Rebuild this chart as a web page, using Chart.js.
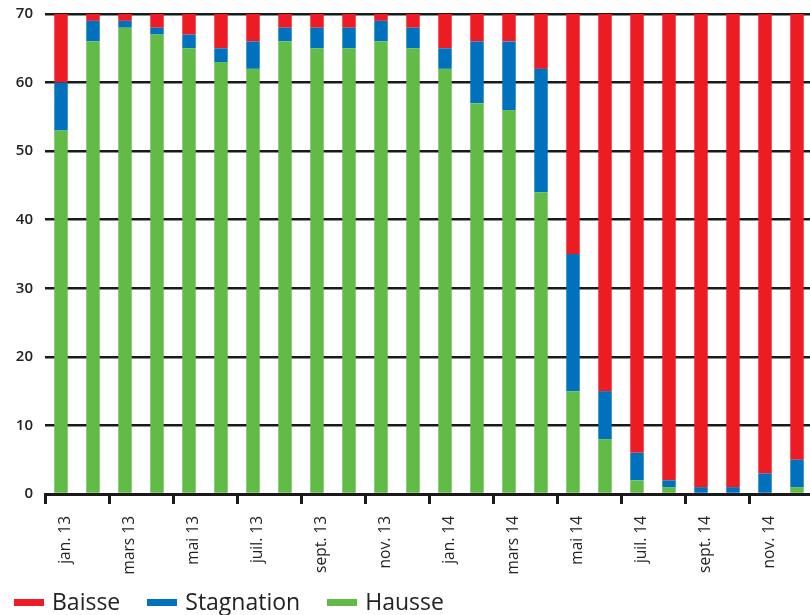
<!doctype html>
<html>
<head>
  <script src="https://cdn.jsdelivr.net/npm/chart.js@4.4.1/dist/chart.umd.min.js"></script>
  <style>
    html, body { margin: 0; padding: 0; overflow: hidden; background: #fff; }
    .chart { position: relative; width: 830px; height: 622px; margin-top: -7px; }
    #legend {
      position: absolute; left: 14px; top: 586px;
      display: flex; align-items: center;
      font-family: 'Open Sans', sans-serif; font-size: 23px; line-height: 30px; color: #222;
    }
    #legend .item { display: flex; align-items: center; margin-right: 27px; }
    #legend .box { width: 30px; height: 7px; margin-right: 8px; margin-top: 3px; }
  </style>
</head>
<body>
  <div class="chart"><canvas id="myChart"></canvas></div>
  <div id="legend"></div>
  <script>
    var months = ['jan. 13', 'févr. 13', 'mars 13', 'avr. 13', 'mai 13', 'juin 13',
      'juil. 13', 'août 13', 'sept. 13', 'oct. 13', 'nov. 13', 'déc. 13',
      'jan. 14', 'févr. 14', 'mars 14', 'avr. 14', 'mai 14', 'juin 14',
      'juil. 14', 'août 14', 'sept. 14', 'oct. 14', 'nov. 14', 'déc. 14'];
    var hausse = [53, 66, 68, 67, 65, 63, 62, 66, 65, 65, 66, 65,
      62, 57, 56, 44, 15, 8, 2, 1, 0, 0, 0, 1];
    var stagnation = [7, 3, 1, 1, 2, 2, 4, 2, 3, 3, 3, 3,
      3, 9, 10, 18, 20, 7, 4, 1, 1, 1, 3, 4];
    var baisse = [10, 1, 1, 2, 3, 5, 4, 2, 2, 2, 1, 2,
      5, 4, 4, 8, 35, 55, 64, 68, 69, 69, 67, 65];
    var yTicks = [0, 10, 20, 30, 40, 50, 60, 70];

    var colors = { red: '#ED1C24', blue: '#0071BC', green: '#62BB47' };
    var ink = '#1a1a1a';

    var config = {
      type: 'bar',
      data: {
        labels: months,
        datasets: [{
          label: 'Hausse',
          data: hausse,
          backgroundColor: colors.green
        }, {
          label: 'Stagnation',
          data: stagnation,
          backgroundColor: colors.blue
        }, {
          label: 'Baisse',
          data: baisse,
          backgroundColor: colors.red
        }]
      },
      options: {
        responsive: true,
        maintainAspectRatio: false,
        animation: false,
        barPercentage: 0.42,
        categoryPercentage: 1,
        layout: {
          autoPadding: false,
          padding: { top: 0, right: 17, left: 0, bottom: 0 }
        },
        scales: {
          x: {
            stacked: true,
            afterFit: function(axis) { axis.height = 121; },
            border: { display: true, color: ink, width: 3 },
            grid: {
              drawOnChartArea: false,
              drawTicks: true,
              tickLength: 10,
              lineWidth: 3,
              // tick mark only before every second month
              color: function(ctx) { return ctx.index % 2 === 0 ? ink : 'rgba(0,0,0,0)'; }
            },
            ticks: {
              autoSkip: false,
              minRotation: 90,
              maxRotation: 90,
              labelOffset: 5,
              padding: 12,
              color: '#222',
              font: { family: "'Open Sans', sans-serif", size: 15.5 },
              callback: function(value, index) {
                return index % 2 === 0 ? months[index] : '';
              }
            }
          },
          y: {
            stacked: true,
            min: 0,
            max: 70,
            afterFit: function(axis) { axis.width = 45; },
            afterBuildTicks: function(axis) {
              axis.ticks = yTicks.map(function(v) { return { value: v }; });
            },
            border: { display: false },
            grid: {
              drawTicks: false,
              color: ink,
              lineWidth: 2.5
            },
            ticks: {
              padding: 12,
              color: '#222',
              font: { family: "'Open Sans', sans-serif", size: 15, weight: '600' }
            }
          }
        },
        plugins: {
          tooltip: { enabled: false },
          legend: { display: false }
        }
      }
    };

    function buildLegend(chart) {
      var el = document.getElementById('legend');
      chart.data.datasets.slice().reverse().forEach(function(ds) {
        var item = document.createElement('div');
        item.className = 'item';
        var box = document.createElement('span');
        box.className = 'box';
        box.style.background = ds.backgroundColor;
        var txt = document.createElement('span');
        txt.textContent = ds.label;
        item.appendChild(box);
        item.appendChild(txt);
        el.appendChild(item);
      });
    }

    window.onload = function() {
      var ctx = document.getElementById('myChart').getContext('2d');
      window.myChart = new Chart(ctx, config);
      buildLegend(window.myChart);
    };
  </script>
</body>
</html>
